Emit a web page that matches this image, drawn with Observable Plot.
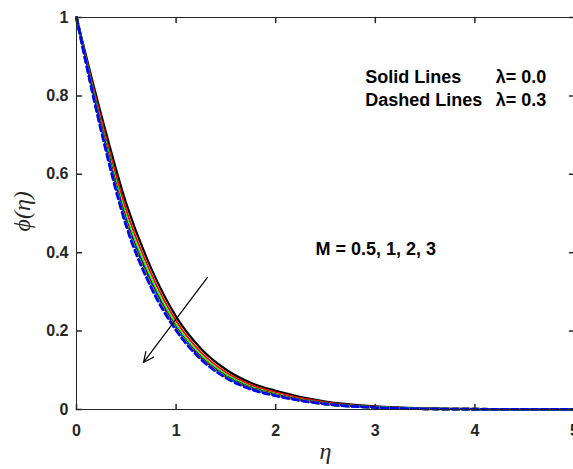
<!DOCTYPE html>
<html>
<head>
<meta charset="utf-8">
<script src="https://cdn.jsdelivr.net/npm/d3@7"></script>
<script src="https://cdn.jsdelivr.net/npm/@observablehq/plot@0.6"></script>
<style>
  html, body { margin: 0; padding: 0; background: #fff; }
  #chart svg { display: block; }
</style>
</head>
<body>
<div id="chart"></div>
<script>
// ---- data ----
const eta = [0, 0.25, 0.5, 0.75, 1, 1.25, 1.5, 1.75, 2, 2.5, 3, 3.5, 4, 4.5, 5];

// Solid lines, lambda = 0.0 (M = 0.5, 1, 2, 3)
const solidBlack = [1, 0.750, 0.525, 0.360, 0.237, 0.155, 0.102, 0.068, 0.048, 0.020, 0.0080, 0.0030, 0.0012, 0.0005, 0.0002];
const solidRed   = [1, 0.738, 0.508, 0.346, 0.226, 0.146, 0.095, 0.063, 0.044, 0.018, 0.0069, 0.0025, 0.0010, 0.0004, 0.0002];
const solidGreen = [1, 0.727, 0.492, 0.333, 0.216, 0.138, 0.089, 0.058, 0.040, 0.016, 0.0061, 0.0022, 0.0008, 0.0003, 0.0001];
const solidBlue  = [1, 0.720, 0.482, 0.324, 0.209, 0.133, 0.085, 0.055, 0.038, 0.015, 0.0056, 0.0020, 0.0007, 0.0003, 0.0001];
// Dashed lines, lambda = 0.3
const dashBlack  = [1, 0.717, 0.478, 0.320, 0.207, 0.132, 0.084, 0.055, 0.037, 0.015, 0.0055, 0.0019, 0.0007, 0.0003, 0.0001];
const dashRed    = [1, 0.715, 0.475, 0.317, 0.206, 0.131, 0.083, 0.054, 0.037, 0.014, 0.0053, 0.0019, 0.0007, 0.0003, 0.0001];
const dashGreen  = [1, 0.712, 0.472, 0.314, 0.204, 0.129, 0.082, 0.053, 0.036, 0.014, 0.0052, 0.0018, 0.0007, 0.0003, 0.0001];
const dashBlue   = [1, 0.709, 0.468, 0.311, 0.202, 0.128, 0.081, 0.052, 0.035, 0.014, 0.0050, 0.0017, 0.0006, 0.0002, 0.0001];

const xTicks = [0, 1, 2, 3, 4, 5];
const yTicks = [0, 0.2, 0.4, 0.6, 0.8, 1];
const xTickLabels = ["0", "1", "2", "3", "4", "5"];
const yTickLabels = ["0", "0.2", "0.4", "0.6", "0.8", "1"];

const xLabel = "η";
const yLabel = "ϕ(η)";

// annotations (data coordinates)
const notes = [
  {x: 2.90, y: 0.847, text: "Solid Lines"},
  {x: 4.21, y: 0.847, text: "λ= 0.0"},
  {x: 2.90, y: 0.788, text: "Dashed Lines"},
  {x: 4.21, y: 0.788, text: "λ= 0.3"},
  {x: 2.40, y: 0.410, text: "M = 0.5, 1, 2, 3"}
];
const arrowData = [{x1: 1.315, y1: 0.337, x2: 0.673, y2: 0.120}];

// ---- build tables ----
const series = [
  {name: "solidBlack", vals: solidBlack, color: "#000000", dash: null},
  {name: "solidRed", vals: solidRed, color: "#ff0000", dash: null},
  {name: "solidGreen", vals: solidGreen, color: "#00ff00", dash: null},
  {name: "solidBlue", vals: solidBlue, color: "#0000ff", dash: null},
  {name: "dashBlack", vals: dashBlack, color: "#000000", dash: "6,4"},
  {name: "dashRed", vals: dashRed, color: "#ff0000", dash: "6,4"},
  {name: "dashGreen", vals: dashGreen, color: "#00ff00", dash: "6,4"},
  {name: "dashBlue", vals: dashBlue, color: "#0000ff", dash: "6,4"}
];

const lineMarks = series.map(s =>
  Plot.line(eta.map((e, i) => ({x: e, y: s.vals[i]})), {
    x: "x", y: "y", stroke: s.color,
    strokeWidth: s.dash ? 2.8 : (s.color === "#000000" ? 2.2 : 1.8),
    strokeDasharray: s.dash,
    curve: "monotone-x"
  })
);

const axisColor = "#262626";
const font = "'Liberation Sans', Arial, sans-serif";

const tickShapeUp = {draw(ctx, l) { ctx.moveTo(0, 0); ctx.lineTo(0, -l); }};
const tickShapeDown = {draw(ctx, l) { ctx.moveTo(0, 0); ctx.lineTo(0, l); }};
const tickShapeRight = {draw(ctx, l) { ctx.moveTo(0, 0); ctx.lineTo(l, 0); }};
const tickShapeLeft = {draw(ctx, l) { ctx.moveTo(0, 0); ctx.lineTo(-l, 0); }};

const chart = Plot.plot({
  width: 573,
  height: 469,
  marginLeft: 76,
  marginRight: -1,
  marginTop: 17,
  marginBottom: 60,
  style: {fontFamily: font, background: "#fff", overflow: "visible"},
  x: {domain: [0, 5], axis: null},
  y: {domain: [0, 1], axis: null},
  marks: [
    ...lineMarks,
    Plot.frame({stroke: axisColor, strokeWidth: 1}),
    // inward tick marks
    Plot.vector(xTicks, {x: d => d, y: 0, length: 5, anchor: "start", shape: tickShapeUp, stroke: axisColor}),
    Plot.vector(xTicks, {x: d => d, y: 1, length: 5, anchor: "start", shape: tickShapeDown, stroke: axisColor}),
    Plot.vector(yTicks, {x: 0, y: d => d, length: 5, anchor: "start", shape: tickShapeRight, stroke: axisColor}),
    Plot.vector(yTicks, {x: 5, y: d => d, length: 5, anchor: "start", shape: tickShapeLeft, stroke: axisColor}),
    // tick labels
    Plot.text(xTicks, {x: d => d, y: 0, text: (d, i) => xTickLabels[i], dy: 21, fontSize: 16, fontWeight: "bold", fill: axisColor, textAnchor: "middle"}),
    Plot.text(yTicks, {x: 0, y: d => d, text: (d, i) => yTickLabels[i], dx: -8, fontSize: 16, fontWeight: "bold", fill: axisColor, textAnchor: "end"}),
    // axis titles
    Plot.text([xLabel], {frameAnchor: "bottom", dy: 49, text: d => d, fontSize: 24, fontStyle: "italic", fontFamily: "'Liberation Serif', 'DejaVu Serif', serif", fill: axisColor}),
    Plot.text([yLabel], {frameAnchor: "left", dx: -54, dy: 18, rotate: -90, text: d => d, fontSize: 24, fontStyle: "italic", fontFamily: "'Liberation Serif', 'DejaVu Serif', serif", fill: axisColor}),
    // annotations
    Plot.text(notes, {x: "x", y: "y", text: "text", textAnchor: "start", fontSize: 18, fontWeight: "bold", fill: "#000"}),
    Plot.arrow(arrowData, {x1: "x1", y1: "y1", x2: "x2", y2: "y2", stroke: "#000", strokeWidth: 1.2, headLength: 14, headAngle: 50})
  ]
});

document.getElementById("chart").appendChild(chart);
</script>
</body>
</html>
